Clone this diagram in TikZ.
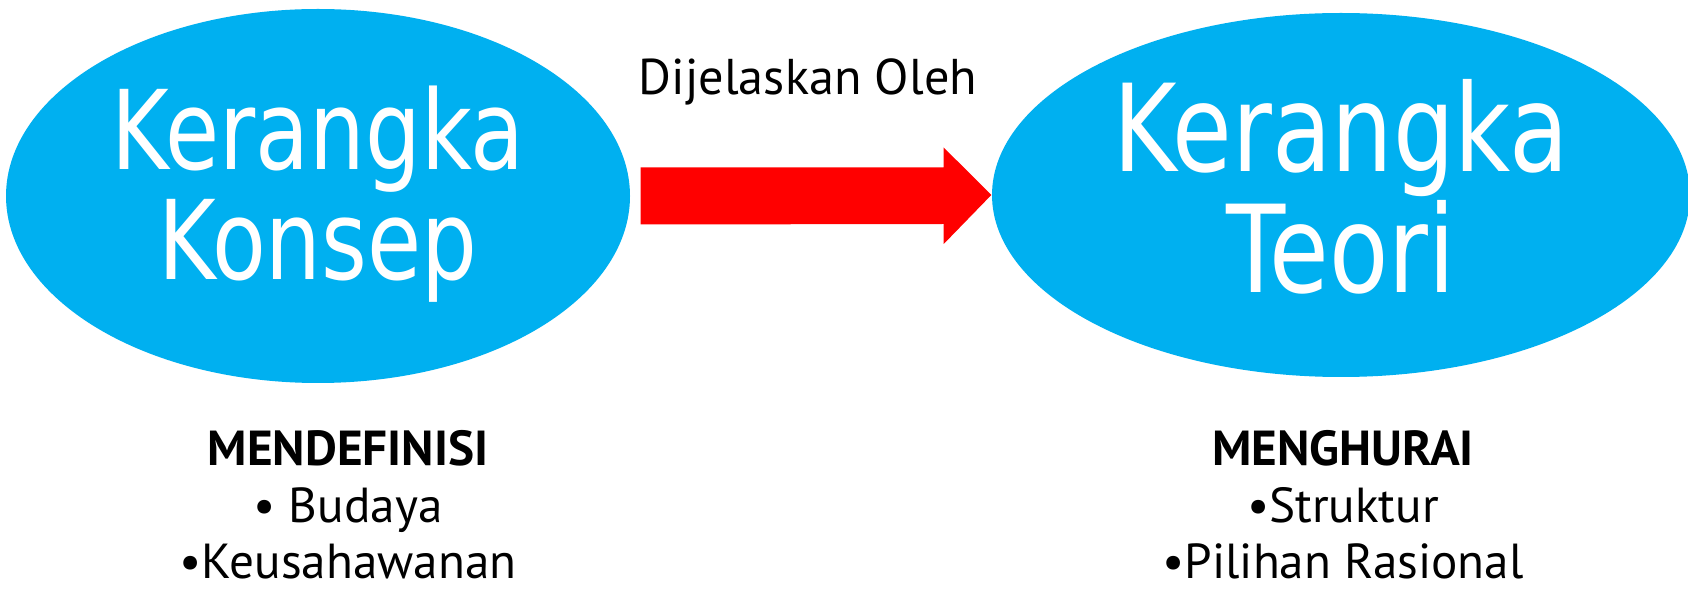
\documentclass[tikz,border=0pt]{standalone}
\usepackage{fontspec}
\setmainfont{PT Sans}
\newfontfamily\ovalfont[FakeStretch=0.8]{DejaVu Sans}
\usetikzlibrary{shapes.geometric,calc}
\definecolor{ovalblue}{HTML}{00B0F0}
\definecolor{arrowred}{HTML}{FF0000}
\tikzset{
  oval/.style={ellipse,fill=ovalblue,inner sep=0pt},
  ovaltext/.style={inner sep=0pt,text=white,align=center},
  subtext/.style={anchor=north,inner sep=0pt,align=center,
    font=\fontsize{14}{16}\selectfont},
}

\begin{document}
\begin{tikzpicture}[x=0.1mm,y=-0.1mm]
  \useasboundingbox (0,0) rectangle (1688,589);
  \fill[white] (0,0) rectangle (1688,589);

  % the two ovals
  \node[oval,minimum width=62.4mm,minimum height=37.4mm] (konsep) at (318,196) {};
  \node[oval,minimum width=69.8mm,minimum height=36.4mm] (teori) at (1341,195) {};
  \node[ovaltext,font=\ovalfont\fontsize{31.3}{31.3}\selectfont] (konsepT)
    at ($(konsep.center)+(0,-2)$) {Kerangka\\Konsep};
  \node[ovaltext,font=\ovalfont\fontsize{34.5}{33}\selectfont] (teoriT)
    at ($(teori.center)+(0,-8)$) {Kerangka\\Teori};

  % block arrow
  \coordinate (tail) at ($(konsep.east)+(10,0)$);
  \fill[arrowred] (tail) ++(0,-28.5) -- ++(303,0) -- ++(0,-20)
    -- (teori.west) -- ($(tail)+(303,48)$) -- ++(0,-20) -- ($(tail)+(0,28.5)$) -- cycle;
  \node[anchor=base,inner sep=0pt,font=\fontsize{14.3}{16}\selectfont] (label) at (808,95) {Dijelaskan Oleh};

  % texts below
  \node[subtext] (defn) at (348,430) {\textbf{MENDEFINISI}\\• Budaya\\•Keusahawanan};
  \node[subtext] (urai) at (1343,430) {\textbf{MENGHURAI}\\•Struktur\\•Pilihan Rasional};
\end{tikzpicture}
\end{document}
